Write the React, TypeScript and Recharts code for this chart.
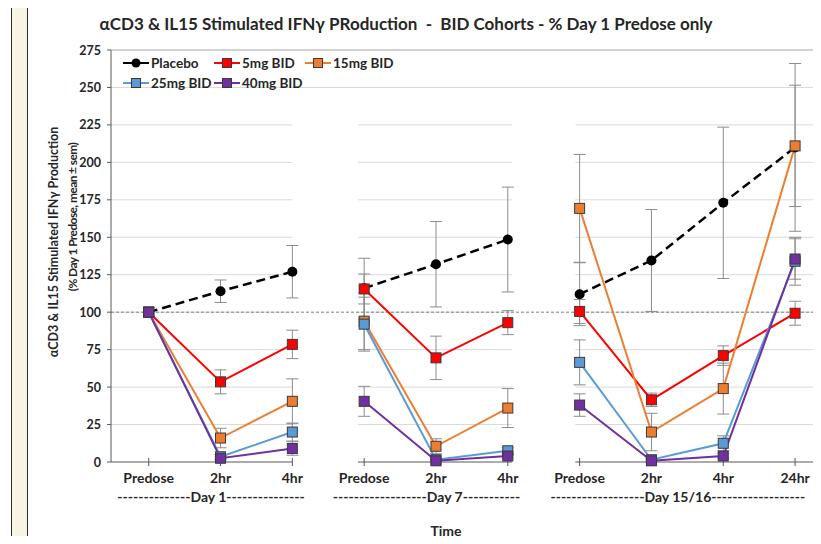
import React from 'react';
import { LineChart, Line, XAxis, YAxis, ReferenceLine, ErrorBar, Legend } from 'recharts';

// Sampling slots along the x axis, in visit order
const timePoints = ['Predose', '2hr', '4hr', 'Predose', '2hr', '4hr', 'Predose', '2hr', '4hr', '24hr'];
// Visit that each sampling slot belongs to
const visitIndex = [0, 0, 0, 1, 1, 1, 2, 2, 2, 2];
const visitLabels = [
  '--------------Day 1---------------',
  '------------------Day 7-----------',
  '------------------Day 15/16------------------',
];

// IFNγ production, % of Day 1 predose (mean and sem)
const placebo = [100, 114, 127, 116, 132, 148.5, 112, 134.5, 173, 210];
const placeboSem = [null, 7.5, 17.5, 20, 28.5, 35, 21, 34, 50.5, 56];
const bid5 = [100, 53.5, 78.5, 115.5, 69.5, 93, 100.5, 41.5, 71, 99.3];
const bid5Sem = [null, 8, 9.5, 10, 14.5, 8, 8, 4.5, 6.5, 8];
const bid15 = [100, 16, 40.5, 94, 10.5, 36, 169.3, 20, 49, 211];
const bid15Sem = [null, 6.5, 15, 19, 5, 13, 36, 12.5, 17, 40.5];
const bid25 = [100, 3.5, 20, 92, 1.5, 7.5, 66.5, 1.5, 12.5, 134];
const bid25Sem = [null, 1.5, 6, 18, 1, 2, 15, 1, 5, 16];
const bid40 = [100, 2.5, 9, 40.5, 0.8, 4, 38, 0.8, 4, 135.5];
const bid40Sem = [null, 1, 4.5, 10, 0.5, 1.5, 7.5, 0.5, 1.5, 13.5];

const yTicks = [0, 25, 50, 75, 100, 125, 150, 175, 200, 225, 250, 275];

type Series = {
  key: string;
  name: string;
  color: string;
  values: number[];
  sem: (number | null)[];
  dashed?: boolean;
  shape: 'circle' | 'square';
};

const series: Series[] = [
  { key: 'placebo', name: 'Placebo', color: '#000000', values: placebo, sem: placeboSem, dashed: true, shape: 'circle' },
  { key: 'bid5', name: '5mg BID', color: '#ff0000', values: bid5, sem: bid5Sem, shape: 'square' },
  { key: 'bid15', name: '15mg BID', color: '#ed7d31', values: bid15, sem: bid15Sem, shape: 'square' },
  { key: 'bid25', name: '25mg BID', color: '#5b9bd5', values: bid25, sem: bid25Sem, shape: 'square' },
  { key: 'bid40', name: '40mg BID', color: '#7030a0', values: bid40, sem: bid40Sem, shape: 'square' },
];

// One row per slot; an empty row between visits breaks the lines
const rows: Record<string, number | null | undefined>[] = [];
timePoints.forEach((_, i) => {
  if (i > 0 && visitIndex[i] !== visitIndex[i - 1]) rows.push({ x: i - 0.5 });
  const row: Record<string, number | null> = { x: i };
  series.forEach((s) => {
    row[s.key] = s.values[i];
    row[s.key + 'Sem'] = s.sem[i];
  });
  rows.push(row);
});

const visitCenters = visitLabels.map((_, v) => {
  const idx = visitIndex.map((g, i) => (g === v ? i : -1)).filter((i) => i >= 0);
  return (Math.min(...idx) + Math.max(...idx)) / 2;
});

// Layout: horizontal extent of each visit panel, in slot units
const X_DOMAIN: [number, number] = [-0.525, 9.5];
const panelSpans: [number, number][] = [
  [-0.525, 2.0],
  [2.915, 5.06],
  [5.94, 9.5],
];
const minorTicks = Array.from({ length: 56 }, (_, i) => i * 5);

const FONT = 'Lato, "Noto Sans", sans-serif';
const TEXT = '#262626';
const GRID = '#d9d9d9';
const AXIS = '#595959';

const Marker = (s: Series, cx: number, cy: number, size = 10) =>
  s.shape === 'circle' ? (
    <circle cx={cx} cy={cy} r={size / 2} fill={s.color} />
  ) : (
    <rect x={cx - size / 2} y={cy - size / 2} width={size} height={size} fill={s.color} stroke="#3a3a3a" strokeWidth={1} />
  );

const LegendBox = () => (
  <div
    style={{
      display: 'grid',
      gridTemplateColumns: '91px 91px 110px',
      fontFamily: FONT,
      fontWeight: 700,
      fontSize: 13.5,
      color: TEXT,
    }}
  >
    {series.map((s) => (
      <div key={s.key} style={{ display: 'flex', alignItems: 'center', height: 20 }}>
        <svg width={26} height={12} style={{ flex: 'none' }}>
          <line x1={0} y1={6} x2={26} y2={6} stroke={s.color} strokeWidth={2} />
          {Marker(s, 13, 6, 9)}
        </svg>
        <span style={{ marginLeft: 2, whiteSpace: 'nowrap' }}>{s.name}</span>
      </div>
    ))}
  </div>
);

const SlotTick = (props: any) => {
  const { x, y, payload } = props;
  return (
    <text x={x} y={y + 20.5} textAnchor="middle" fontFamily={FONT} fontWeight={700} fontSize={14} fill={TEXT}>
      {timePoints[payload.value]}
    </text>
  );
};

const VisitTick = (props: any) => {
  const { x, y, payload } = props;
  const v = visitCenters.indexOf(payload.value);
  return (
    <text x={x - 9.5} y={y + 15.5} textAnchor="middle" fontFamily={FONT} fontWeight={700} fontSize={14} fill={TEXT}>
      {visitLabels[v]}
    </text>
  );
};

const YTick = (props: any) => {
  const { x, y, payload } = props;
  return (
    <text x={x} y={y + 4.5} textAnchor="end" fontFamily={FONT} fontWeight={700} fontSize={12.5} fill={TEXT}>
      {payload.value}
    </text>
  );
};

const YTitle = (props: any) => {
  const vb = props.viewBox || { x: 51, y: 50, width: 60, height: 412 };
  const cy = vb.y + vb.height / 2;
  const x1 = vb.x + 2;
  const x2 = vb.x + 21;
  const common = { textAnchor: 'middle' as const, dominantBaseline: 'central' as const, fontFamily: FONT, fontWeight: 700, fill: TEXT };
  return (
    <g>
      <text x={x1} y={cy - 14} transform={`rotate(-90, ${x1}, ${cy - 14})`} fontSize={12.5} {...common}>
        αCD3 &amp; IL15 Stimulated IFNγ Production
      </text>
      <text x={x2} y={cy - 39} transform={`rotate(-90, ${x2}, ${cy - 39})`} fontSize={12} letterSpacing={-0.6} {...common}>
        (% Day 1 Predose, mean ± sem)
      </text>
    </g>
  );
};

const ids = { xAxisId: 'slot', yAxisId: 'value' };

export default function App() {
  return (
    <div style={{ margin: -8, width: 821, height: 544, overflow: 'hidden', position: 'relative', background: '#f8f4e4' }}>
      <div style={{ position: 'absolute', left: -20, top: 6, width: 30, height: 600, background: '#fff', border: '1px solid #2b2b2b' }}>
        <div style={{ position: 'absolute', left: 19, top: 44, width: 1, height: 413, background: '#a6a6a6' }} />
      </div>
      <div style={{ position: 'absolute', left: 27, top: 6, width: 900, height: 600, background: '#fff', border: '1px solid #2b2b2b' }} />
      <div
        style={{
          position: 'absolute',
          left: 56,
          top: 14,
          width: 700,
          textAlign: 'center',
          fontFamily: FONT,
          fontWeight: 700,
          fontSize: 17,
          lineHeight: '20px',
          color: TEXT,
          whiteSpace: 'pre',
        }}
      >
        {'αCD3 & IL15 Stimulated IFNγ PRoduction  -  BID Cohorts - % Day 1 Predose only'}
      </div>
      <div
        style={{
          position: 'absolute',
          left: 396,
          top: 522,
          width: 100,
          textAlign: 'center',
          fontFamily: FONT,
          fontWeight: 700,
          fontSize: 14,
          lineHeight: '17px',
          color: TEXT,
        }}
      >
        Time
      </div>
      <div style={{ position: 'absolute', left: 0, top: 0 }}>
        <LineChart width={860} height={544} data={rows} margin={{ top: 50, right: 29, bottom: 0, left: 51 }}>
          <XAxis
            xAxisId="slot"
            type="number"
            dataKey="x"
            domain={X_DOMAIN}
            ticks={timePoints.map((_, i) => i)}
            interval={0}
            axisLine={false}
            tickLine={false}
            tickSize={0}
            tickMargin={0}
            height={24}
            tick={SlotTick}
          />
          <XAxis
            xAxisId="visit"
            type="number"
            dataKey="x"
            domain={X_DOMAIN}
            ticks={visitCenters}
            interval={0}
            axisLine={false}
            tickLine={false}
            tickSize={0}
            tickMargin={0}
            height={58}
            tick={VisitTick}
          />
          <YAxis
            yAxisId="value"
            type="number"
            domain={[0, 275]}
            ticks={yTicks}
            interval={0}
            width={60}
            tickSize={4}
            tickMargin={6}
            axisLine={{ stroke: AXIS }}
            tickLine={{ stroke: AXIS }}
            tick={YTick}
            label={<YTitle />}
          />
          <YAxis
            yAxisId="minor"
            type="number"
            domain={[0, 275]}
            ticks={minorTicks}
            interval={0}
            mirror
            width={0}
            tickSize={4}
            axisLine={false}
            tickLine={{ stroke: AXIS }}
            tick={false}
          />

          {/* full-width lines across the top of the plot */}
          {[250, 275].map((v) => (
            <ReferenceLine key={`top-${v}`} {...ids} segment={[{ x: X_DOMAIN[0], y: v }, { x: X_DOMAIN[1], y: v }]} stroke={v === 275 ? '#a6a6a6' : GRID} strokeWidth={1} ifOverflow="visible" />
          ))}
          {/* per-visit gridlines and axis baseline */}
          {panelSpans.map(([a, b], p) =>
            yTicks
              .filter((v) => v < 250)
              .map((v) => (
                <ReferenceLine
                  key={`g-${p}-${v}`}
                  {...ids}
                  segment={[{ x: a, y: v }, { x: b, y: v }]}
                  stroke={v === 0 ? AXIS : GRID}
                  strokeWidth={1}
                  ifOverflow="visible"
                />
              ))
          )}
          {timePoints.map((_, i) => (
            <ReferenceLine key={`t-${i}`} {...ids} segment={[{ x: i, y: -2.7 }, { x: i, y: 2.7 }]} stroke={AXIS} strokeWidth={1} ifOverflow="visible" />
          ))}
          <ReferenceLine {...ids} y={100} stroke="#7f7f7f" strokeWidth={1} strokeDasharray="3 2" ifOverflow="visible" />

          {series.map((s) => (
            <Line
              key={s.key}
              {...ids}
              dataKey={s.key}
              name={s.name}
              stroke={s.color}
              strokeWidth={s.dashed ? 2.5 : 2}
              strokeDasharray={s.dashed ? '9 5' : undefined}
              connectNulls={false}
              isAnimationActive={false}
              activeDot={false}
              dot={(p: any) =>
                p.cx == null || p.cy == null ? (
                  <g key={`${s.key}-${p.index}`} />
                ) : (
                  <g key={`${s.key}-${p.index}`}>{Marker(s, p.cx, p.cy)}</g>
                )
              }
            >
              <ErrorBar dataKey={s.key + 'Sem'} direction="y" width={6} stroke="#8c8c8c" strokeWidth={1} isAnimationActive={false} />
            </Line>
          ))}

          <Legend
            verticalAlign="middle"
            align="center"
            layout="horizontal"
            content={() => <LegendBox />}
            wrapperStyle={{ top: 53, left: 123, width: 320 }}
          />
        </LineChart>
      </div>
    </div>
  );
}
